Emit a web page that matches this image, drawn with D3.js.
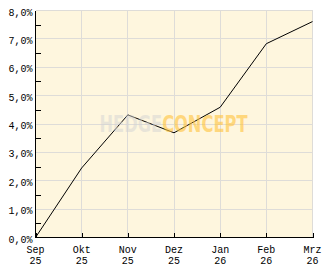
<!DOCTYPE html>
<html>
<head>
<meta charset="utf-8">
<script src="https://cdn.jsdelivr.net/npm/d3@7"></script>
<style>
  body { margin: 0; background: #ffffff; }
  svg { display: block; }
  .tick-label { font-family: "Liberation Mono", "DejaVu Sans Mono", monospace; font-size: 10px; fill: #000; }
</style>
</head>
<body>
<div id="chart"></div>
<script>
// Chart data
const months = ["Sep", "Okt", "Nov", "Dez", "Jan", "Feb", "Mrz"];
const years = ["25", "25", "25", "25", "26", "26", "26"];
const values = [0.0, 2.45, 4.32, 3.69, 4.59, 6.83, 7.61];
const yTicks = [0, 1, 2, 3, 4, 5, 6, 7, 8];
const yMinorTicks = [0.5, 1.5, 2.5, 3.5, 4.5, 5.5, 6.5, 7.5];
const watermark = ["HEDGE", "CONCEPT"];

const W = 332, H = 269;
const margin = { top: 10, right: 20, bottom: 32, left: 35 };
const width = W - margin.left - margin.right;
const height = H - margin.top - margin.bottom;

const svg = d3.select("#chart").append("svg")
  .attr("width", W)
  .attr("height", H);

const g = svg.append("g")
  .attr("transform", `translate(${margin.left + 0.5},${margin.top + 0.5})`);

const keys = months.map((m, i) => i);

const x = d3.scalePoint()
  .domain(keys)
  .range([0, width]);

const y = d3.scaleLinear()
  .domain([0, 8])
  .range([height, 0]);

// Plot background
g.append("rect")
  .attr("x", 0)
  .attr("y", 0)
  .attr("width", width)
  .attr("height", height)
  .attr("fill", "#fef6de");

// Grid lines
g.append("g")
  .selectAll("line")
  .data(yTicks)
  .join("line")
  .attr("x1", 0)
  .attr("x2", width)
  .attr("y1", d => Math.round(y(d)))
  .attr("y2", d => Math.round(y(d)))
  .attr("stroke", "#dedcd8")
  .attr("shape-rendering", "crispEdges");

g.append("g")
  .selectAll("line")
  .data(keys)
  .join("line")
  .attr("x1", d => Math.round(x(d)))
  .attr("x2", d => Math.round(x(d)))
  .attr("y1", 0)
  .attr("y2", height)
  .attr("stroke", "#dedcd8")
  .attr("shape-rendering", "crispEdges");

// Data line
const line = d3.line()
  .x((d, i) => x(i))
  .y(d => y(d));

g.append("path")
  .datum(values)
  .attr("d", line)
  .attr("fill", "none")
  .attr("stroke", "#000")
  .attr("stroke-width", 1);

// Watermark: one text, two colours via a hard-stop gradient
const wmX = 64, wmSplit = 126.5, wmEnd = 212;
const grad = svg.append("defs").append("linearGradient")
  .attr("id", "wm-fill")
  .attr("gradientUnits", "userSpaceOnUse")
  .attr("x1", wmX).attr("x2", wmEnd)
  .attr("y1", 0).attr("y2", 0);
const split = (wmSplit - wmX) / (wmEnd - wmX);
grad.append("stop").attr("offset", 0).attr("stop-color", "#d2d2d2").attr("stop-opacity", 0.5);
grad.append("stop").attr("offset", split).attr("stop-color", "#d2d2d2").attr("stop-opacity", 0.5);
grad.append("stop").attr("offset", split).attr("stop-color", "#ffc23c").attr("stop-opacity", 0.6);
grad.append("stop").attr("offset", 1).attr("stop-color", "#ffc23c").attr("stop-opacity", 0.6);

g.append("text")
  .attr("x", wmX)
  .attr("y", 121)
  .attr("font-family", "'Liberation Sans Narrow', 'DejaVu Sans Condensed', sans-serif")
  .attr("font-weight", "bold")
  .attr("font-size", "23px")
  .attr("fill", "url(#wm-fill)")
  .attr("textLength", wmEnd - wmX)
  .attr("lengthAdjust", "spacingAndGlyphs")
  .text(watermark.join(""));

// Axes
const yMinor = d3.axisRight(y)
  .tickValues(yMinorTicks)
  .tickSize(5)
  .tickFormat("");

g.append("g")
  .call(yMinor)
  .call(s => s.select(".domain").remove())
  .selectAll("line")
  .attr("stroke", "#000")
  .attr("shape-rendering", "crispEdges");

const yAxis = d3.axisLeft(y)
  .tickValues(yTicks)
  .tickSize(0)
  .tickPadding(3)
  .tickFormat(d => d.toFixed(1).replace(".", ",") + "%");

g.append("g")
  .call(yAxis)
  .call(s => s.select(".domain").attr("stroke", "#000").attr("d", `M0,0V${height}`).attr("shape-rendering", "crispEdges"))
  .selectAll("text")
  .attr("class", "tick-label")
  .attr("dy", "0.45em");

const xAxis = d3.axisTop(x)
  .tickSize(5)
  .tickFormat("");

const gX = g.append("g")
  .attr("transform", `translate(0,${height})`)
  .call(xAxis);
gX.select(".domain").attr("stroke", "#000").attr("d", `M0,0H${width}`).attr("shape-rendering", "crispEdges");
gX.selectAll("line").attr("stroke", "#000").attr("shape-rendering", "crispEdges");

// X tick labels (two rows)
const labels = g.append("g")
  .selectAll("text")
  .data(keys)
  .join("text")
  .attr("class", "tick-label")
  .attr("text-anchor", "middle")
  .attr("x", d => x(d))
  .attr("y", height + 15);
labels.append("tspan")
  .attr("x", d => x(d))
  .text(d => months[d]);
labels.append("tspan")
  .attr("x", d => x(d))
  .attr("dy", 11)
  .text(d => years[d]);
</script>
</body>
</html>
